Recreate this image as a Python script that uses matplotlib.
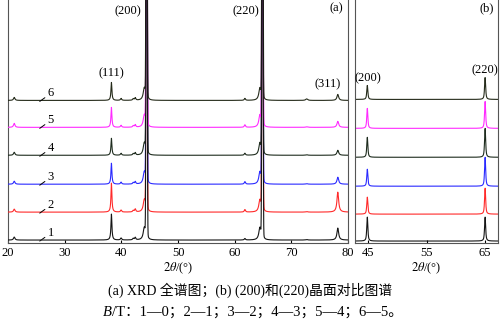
import numpy as np
import matplotlib
matplotlib.use('Agg')
import matplotlib.pyplot as plt

plt.rcParams['font.family'] = ['Liberation Serif', 'Noto Sans CJK SC']
plt.rcParams['mathtext.fontset'] = 'stix'

# curve numbers and colours (1 at the bottom)
curve_ids = ['1', '2', '3', '4', '5', '6']
colors = ['#151515', '#ff2a2a', '#2a2aff', '#1e2c1e', '#ff2aff', '#252b1a']

# (a) full pattern: peak positions 2θ, half widths, lorentz fraction
peaks_a = [21.1, 38.25, 39.95, 42.1, 42.45, 44.05, 44.46, 61.8, 64.45, 64.9, 72.7, 78.2]
widths_a = [0.15, 0.10, 0.12, 0.12, 0.12, 0.22, 0.09, 0.12, 0.22, 0.09, 0.20, 0.18]
eta_a = [1, 1, 1, 1, 1, 1, 0.03, 1, 1, 0.03, 1, 1]
# peak heights for each curve (same order as peaks_a)
heights_a = [
    [3, 26, 2, 1.5, 2.5, 12, 900, 1.5, 12, 900, 0.5, 12],
    [3, 29, 2, 1.5, 3.0, 12, 900, 2.5, 12, 900, 0.5, 20],
    [3, 21, 2, 1.5, 2.5, 12, 900, 2.5, 12, 900, 0.5, 7],
    [3, 17, 2, 1.5, 2.5, 12, 900, 2.0, 12, 900, 0.5, 5],
    [4, 20, 2, 1.5, 2.5, 12, 900, 2.5, 12, 900, 0.5, 6],
    [3, 18, 2, 1.5, 2.5, 12, 900, 2.0, 12, 900, 1.5, 6],
]
offsets_a = [3, 31, 59, 88, 116, 143]

# (b) (200) and (220) peaks only
peaks_b = [44.9, 65.0]
widths_b = [0.11, 0.11]
eta_b = [0.7, 0.7]
heights_b = [
    [24, 24],
    [17, 26],
    [17, 29],
    [20, 29],
    [20, 27],
    [14, 22],
]
offsets_b = [2, 29, 57, 86, 115, 144]

hkl_a = [('(111)', 38.3, 170), ('(200)', 41.2, 232), ('(220)', 62.0, 232), ('(311)', 76.4, 159)]
hkl_b = [('(200)', 45.0, 165), ('(220)', 65.0, 173)]


def pattern(x, peaks, widths, etas, heights):
    y = np.zeros_like(x)
    for p, w, e, h in zip(peaks, widths, etas, heights):
        lor = 1 / (1 + ((x - p) / w) ** 2)
        gau = np.exp(-np.log(2) * ((x - p) / w) ** 2)
        y += h * (e * lor + (1 - e) * gau)
    return y


fig = plt.figure(figsize=(5, 3.28), dpi=100)
ax_a = fig.add_axes([0.016, 0.259, 0.680, 0.745])
ax_b = fig.add_axes([0.710, 0.259, 0.286, 0.745])

x_a = np.linspace(20, 80, 6001)
for i in range(len(curve_ids)):
    y = pattern(x_a, peaks_a, widths_a, eta_a, heights_a[i]) + offsets_a[i]
    ax_a.plot(x_a, y, color=colors[i], lw=0.8, zorder=3 + (i == 0) * 10)
    off = offsets_a[i]
    ax_a.annotate(curve_ids[i], xy=(25.6, off - 1), xytext=(27.0, off + 7),
                  fontsize=9, va='center', ha='left',
                  arrowprops=dict(arrowstyle='-', lw=0.7, color='black',
                                  shrinkA=0, shrinkB=0))

x_b = np.linspace(42.8, 67.2, 4001)
for i in range(len(curve_ids)):
    y = pattern(x_b, peaks_b, widths_b, eta_b, heights_b[i]) + offsets_b[i]
    ax_b.plot(x_b, y, color=colors[i], lw=0.8)

for label, xp, yp in hkl_a:
    ax_a.text(xp, yp, label, fontsize=9, ha='center', va='center')
for label, xp, yp in hkl_b:
    ax_b.text(xp, yp, label, fontsize=9, ha='center', va='center')

ax_a.text(0.985, 0.985, '(a)', transform=ax_a.transAxes, fontsize=9, ha='right', va='top')
ax_b.text(0.97, 0.985, '(b)', transform=ax_b.transAxes, fontsize=9, ha='right', va='top')

ax_a.set_xlim(20, 80)
ax_a.set_ylim(0, 245)
ax_a.set_xticks([20, 30, 40, 50, 60, 70, 80])
ax_b.set_xlim(42.8, 67.2)
ax_b.set_ylim(0, 245)
ax_b.set_xticks([45, 55, 65])

for ax in (ax_a, ax_b):
    ax.set_yticks([])
    ax.tick_params(axis='x', direction='in', length=2, labelsize=9, pad=3)
    for s in ax.spines.values():
        s.set_color('#555555')
        s.set_linewidth(0.8)
    ax.set_xlabel(r'$2\theta$/(°)', fontsize=9, labelpad=1)

fig.text(0.5, 0.115, '(a) XRD 全谱图；(b) (200)和(220)晶面对比图谱',
         fontsize=10, ha='center', va='center')
b_txt = fig.text(0.206, 0.048, 'B', fontsize=10.5, style='italic', ha='left', va='center')
ax_a.annotate('/T：1—0；2—1；3—2；4—3；5—4；6—5。', xy=(1, 0), xycoords=b_txt,
              fontsize=10.5, ha='left', va='bottom', annotation_clip=False)

fig.savefig('out.png', dpi=100)
